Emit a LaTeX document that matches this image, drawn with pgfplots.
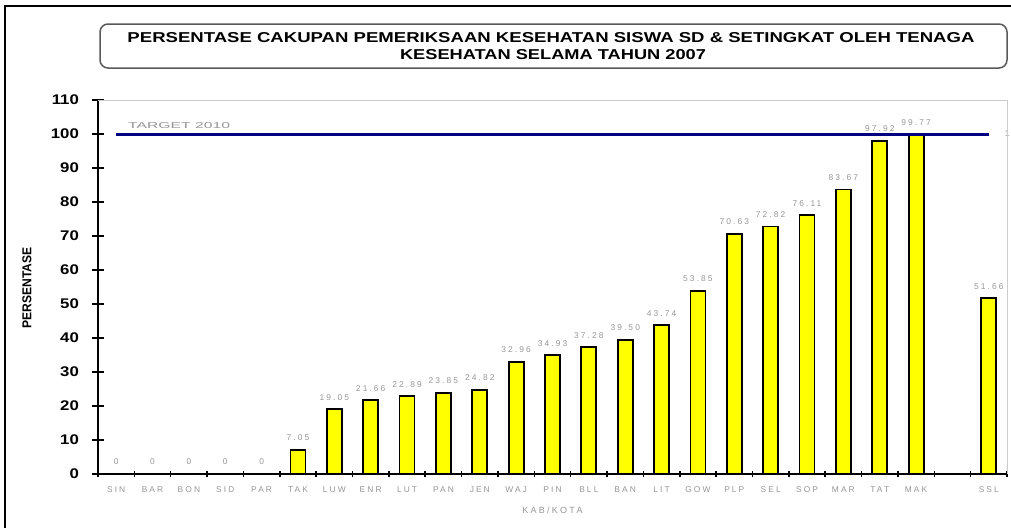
\documentclass[border=0pt]{standalone}
\usepackage{pgfplots}
\pgfplotsset{compat=1.18}
\usepackage{pgfplotstable}
\usepackage{fontspec}
\setmainfont{Liberation Sans}
\newfontfamily\spfont[LetterSpace=25]{Liberation Sans}
\definecolor{txtgray}{RGB}{150,150,150}
\definecolor{navyline}{RGB}{0,0,128}
\definecolor{baryellow}{RGB}{255,255,0}

\pgfplotstableread{
x y lab
0 0 0
1 0 0
2 0 0
3 0 0
4 0 0
5 7.05 7.05
6 19.05 19.05
7 21.66 21.66
8 22.89 22.89
9 23.85 23.85
10 24.82 24.82
11 32.96 32.96
12 34.93 34.93
13 37.28 37.28
14 39.50 39.50
15 43.74 43.74
16 53.85 53.85
17 70.63 70.63
18 72.82 72.82
19 76.11 76.11
20 83.67 83.67
21 97.92 97.92
22 99.77 99.77
24 51.66 51.66
}\datatable

\begin{document}
\begin{tikzpicture}[x=0.5pt,y=0.5pt]
\useasboundingbox (0,0) rectangle (1011,527);
\clip (0,0) rectangle (1011,527);
% outer frame
\draw[line width=1pt,black] (5,-20) -- (5,521) -- (1030,521);
% title box
\draw[line width=0.75pt,black!65,rounded corners=4pt] (100,459) rectangle (1007,503);
\node at (551,489) {\resizebox{423.5pt}{5pt}{\bfseries PERSENTASE CAKUPAN PEMERIKSAAN KESEHATAN SISWA SD \& SETINGKAT OLEH TENAGA}};
\node at (553,472) {\resizebox{153pt}{5pt}{\bfseries KESEHATAN SELAMA TAHUN 2007}};
% y label
\node[rotate=90] at (27,239) {\resizebox{40.5pt}{4.5pt}{\bfseries PERSENTASE}};

\begin{axis}[
  scale only axis,
  width=454.5pt, height=187pt,
  anchor=south west, at={(49pt,26.5pt)},
  xmin=-0.5, xmax=24.5, ymin=0, ymax=110,
  axis lines*=left,
  axis line style={line width=0.75pt,black},
  tick align=center,
  major tick length=6pt,
  minor tick length=3pt,
  every tick/.style={black,line width=0.75pt},
  ytick={0,10,...,110},
  xtick={0,...,22,24},
  xticklabels={SIN,BAR,BON,SID,PAR,TAK,LUW,ENR,LUT,PAN,JEN,WAJ,PIN,BLL,BAN,LIT,GOW,PLP,SEL,SOP,MAR,TAT,MAK,SSL},
  major x tick style={draw=none},
  minor xtick={-0.5,0.5,...,24.5},
  /pgf/number format/assume math mode=true,
  yticklabel style={font=\fontsize{7}{8}\selectfont\bfseries, black, xshift=-3pt},
  yticklabel={\scalebox{1.2}[1]{\pgfmathprintnumber{\tick}}},
  xticklabel style={font=\spfont\fontsize{4.2}{5}\selectfont, txtgray},
  xlabel={\spfont\fontsize{4.5}{5}\selectfont KAB/KOTA},
  xlabel style={txtgray},
  clip=false,
]
\addplot[ybar, bar width=7.5pt, fill=baryellow, draw=black, line width=0.9pt,
  nodes near coords, point meta=explicit symbolic,
  every node near coord/.append style={anchor=center, yshift=6pt, font=\spfont\fontsize{4.2}{5}\selectfont, text=txtgray}]
  table[x=x,y=y,meta=lab]{\datatable};
\addplot[navyline, line width=1.5pt, mark=none] coordinates {(0,100) (24,100)};
\node[text=txtgray] at (axis cs:1.73,102.5) {\resizebox{51pt}{3pt}{TARGET 2010}};
\node[text=txtgray, anchor=west, inner sep=0pt, font=\fontsize{4.2}{5}\selectfont] at (axis cs:24.43,100) {1};
\draw[black!20, line width=0.5pt] (rel axis cs:0,1) -- (rel axis cs:1,1) -- (rel axis cs:1,0);
\end{axis}
\end{tikzpicture}
\end{document}
